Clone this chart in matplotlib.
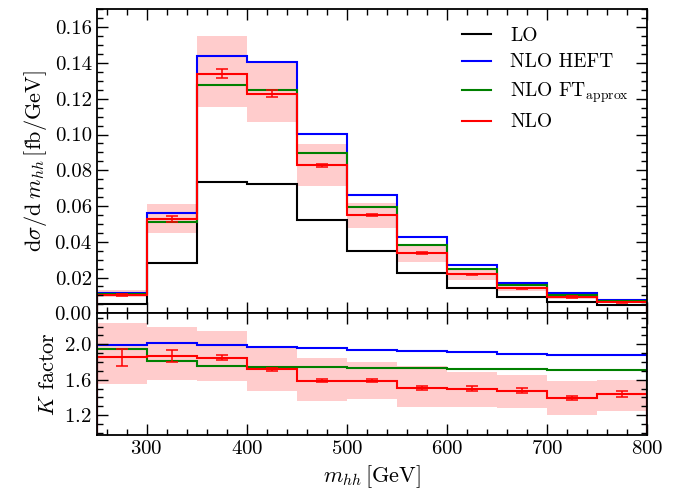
import numpy as np
import matplotlib
matplotlib.use('Agg')
import matplotlib.pyplot as plt
from matplotlib.ticker import MultipleLocator

plt.rcParams['font.family'] = 'serif'
plt.rcParams['font.serif'] = ['cmr10']
plt.rcParams['mathtext.fontset'] = 'cm'
plt.rcParams['axes.formatter.use_mathtext'] = True

# bin edges in m_hh [GeV]
edges = np.array([250, 300, 350, 400, 450, 500, 550, 600, 650, 700, 750, 800])
centres = 0.5 * (edges[:-1] + edges[1:])

# upper panel: dsigma/dm_hh [fb/GeV]
lo = [0.0052, 0.0284, 0.0734, 0.0725, 0.0524, 0.0349, 0.0225, 0.0144, 0.0093, 0.0065, 0.0047]
nlo_heft = [0.0113, 0.0563, 0.1439, 0.1406, 0.1005, 0.0664, 0.0426, 0.0272, 0.0172, 0.0114, 0.0076]
nlo_ftapprox = [0.0108, 0.0510, 0.1275, 0.1251, 0.0899, 0.0595, 0.0381, 0.0246, 0.0158, 0.0104, 0.0069]
nlo = [0.0104, 0.0526, 0.1340, 0.1229, 0.0828, 0.0548, 0.0337, 0.0218, 0.0139, 0.0091, 0.0062]
nlo_err = [0.0005, 0.0018, 0.0026, 0.0019, 0.0008, 0.0006, 0.0005, 0.0004, 0.0003, 0.0003, 0.0002]
band_hi = [0.0128, 0.0613, 0.1550, 0.1410, 0.0949, 0.0617, 0.0374, 0.0240, 0.0150, 0.0102, 0.0072]
band_lo = [0.0091, 0.0449, 0.1154, 0.1070, 0.0712, 0.0477, 0.0286, 0.0188, 0.0122, 0.0078, 0.0055]

# lower panel: K factors
k_heft = [1.99, 2.01, 1.995, 1.97, 1.955, 1.94, 1.925, 1.91, 1.895, 1.88, 1.875]
k_ftapprox = [1.947, 1.815, 1.755, 1.743, 1.74, 1.735, 1.73, 1.72, 1.717, 1.713, 1.71]
k_nlo = [1.853, 1.87, 1.85, 1.717, 1.59, 1.59, 1.505, 1.50, 1.475, 1.396, 1.44]
k_err = [0.096, 0.07, 0.032, 0.02, 0.02, 0.02, 0.02, 0.025, 0.03, 0.025, 0.035]
k_band_hi = [2.24, 2.19, 2.15, 1.97, 1.84, 1.80, 1.75, 1.69, 1.65, 1.585, 1.60]
k_band_lo = [1.55, 1.60, 1.58, 1.47, 1.36, 1.38, 1.295, 1.295, 1.275, 1.20, 1.245]

fig = plt.figure(figsize=(6.76, 4.94), dpi=100)
ax1 = fig.add_axes([0.143, 0.3658, 0.814, 0.6152])
ax2 = fig.add_axes([0.143, 0.1194, 0.814, 0.2464], sharex=ax1)

pink = '#ffcccc'
lw = 1.5

# top panel
ax1.stairs(band_hi, edges, baseline=band_lo, fill=True, color=pink, lw=0)
ax1.stairs(lo, edges, color='black', lw=lw, label='LO')
ax1.stairs(nlo_heft, edges, color='blue', lw=lw, label='NLO HEFT')
ax1.stairs(nlo_ftapprox, edges, color='green', lw=lw, label=r'NLO FT$_{\rm approx}$')
ax1.stairs(nlo, edges, color='red', lw=lw, label='NLO')
ax1.errorbar(centres, nlo, yerr=nlo_err, fmt='none', ecolor='red', elinewidth=1.1, capsize=4, capthick=1.1)

ax1.set_xlim(250, 800)
ax1.set_ylim(0, 0.17)
ax1.yaxis.set_major_locator(MultipleLocator(0.02))
ax1.yaxis.set_minor_locator(MultipleLocator(0.005))
ax1.yaxis.set_major_formatter(matplotlib.ticker.FormatStrFormatter('%.2f'))
ax1.set_ylabel(r'$\mathrm{d}\sigma/\mathrm{d}\;m_{hh}\,[\mathrm{fb}/\mathrm{GeV}]$', fontsize=16)
plt.setp(ax1.get_xticklabels(), visible=False)
ax1.legend(loc='upper right', frameon=False, fontsize=14, handlelength=1.5,
           handletextpad=1.0, labelspacing=0.45)

# bottom panel
ax2.stairs(k_band_hi, edges, baseline=k_band_lo, fill=True, color=pink, lw=0)
ax2.stairs(k_heft, edges, color='blue', lw=lw)
ax2.stairs(k_ftapprox, edges, color='green', lw=lw)
ax2.stairs(k_nlo, edges, color='red', lw=lw)
ax2.errorbar(centres, k_nlo, yerr=k_err, fmt='none', ecolor='red', elinewidth=1.1, capsize=4, capthick=1.1)

ax2.set_ylim(0.975, 2.35)
ax2.yaxis.set_major_locator(MultipleLocator(0.4))
ax2.yaxis.set_minor_locator(MultipleLocator(0.1))
ax2.xaxis.set_major_locator(MultipleLocator(100))
ax2.xaxis.set_minor_locator(MultipleLocator(20))
ax2.set_ylabel(r'$K$ factor', fontsize=16)
ax2.set_xlabel(r'$m_{hh}\,[\mathrm{GeV}]$', fontsize=16)

for ax in (ax1, ax2):
    ax.tick_params(which='both', direction='in', top=True, right=True, labelsize=15, width=1.0)
    ax.tick_params(which='major', length=8)
    ax.tick_params(which='minor', length=4)
    for s in ax.spines.values():
        s.set_linewidth(1.3)

fig.align_ylabels([ax1, ax2])
fig.savefig('out.png', dpi=100)
